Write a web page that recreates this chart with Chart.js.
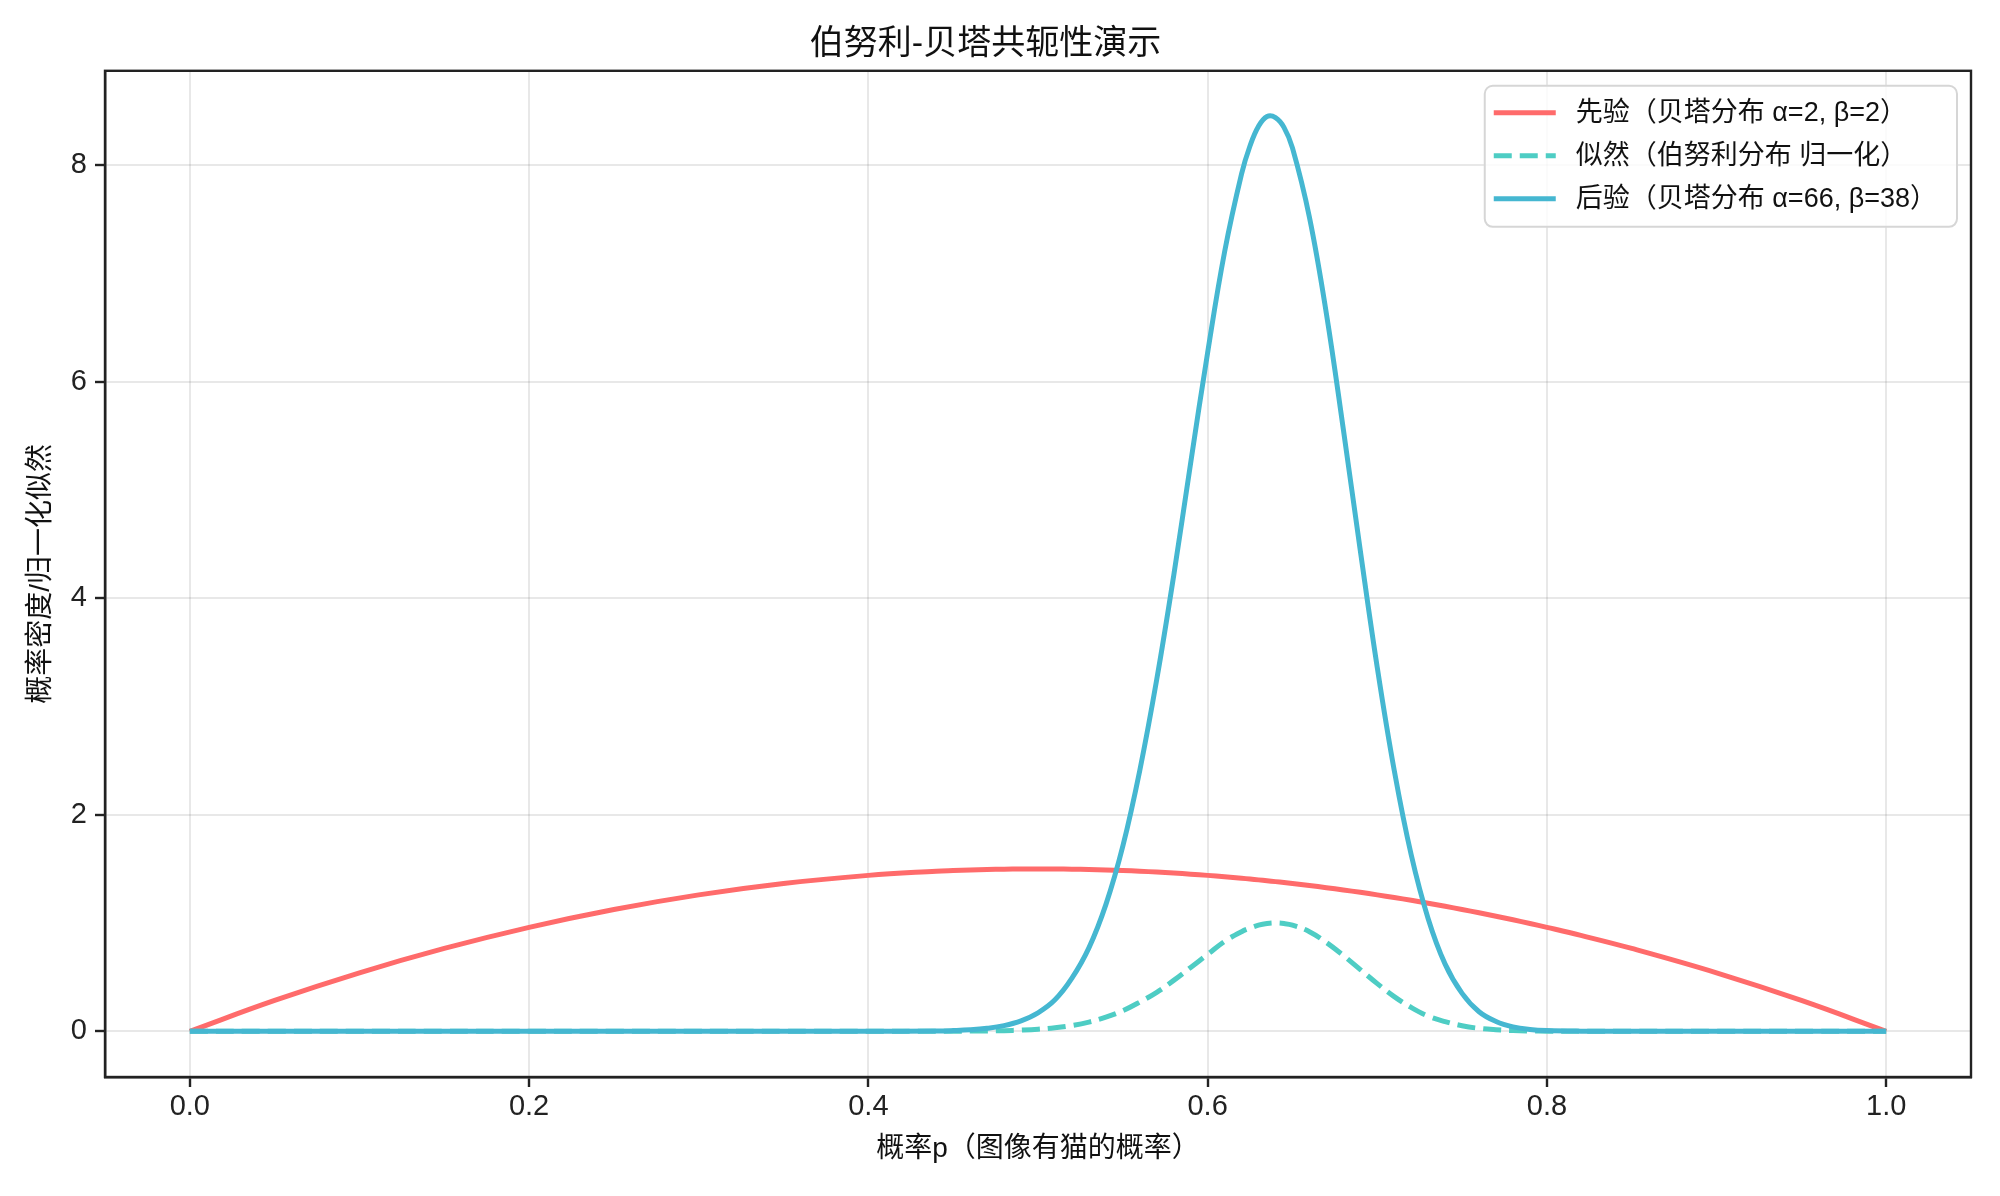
<!DOCTYPE html>
<html>
<head>
<meta charset="utf-8">
<title>伯努利-贝塔共轭性演示</title>
<script src="https://cdn.jsdelivr.net/npm/chart.js@4.4.0/dist/chart.umd.min.js"></script>
<style>
  html, body { margin: 0; padding: 0; background: #fff; }
  #wrap { width: 2000px; height: 1196px; }
</style>
</head>
<body>
<div id="wrap"><canvas id="conjugateChart" width="2000" height="1196"></canvas></div>
<script>
//------------------------------------//
//------------- Data -----------------//
//------------------------------------//

// p grid (x values), denser around the peak
const pGrid = [0, 0.05, 0.1, 0.15, 0.2, 0.25, 0.3, 0.35, 0.4, 0.44,
  0.45, 0.46, 0.47, 0.48, 0.49, 0.50, 0.51, 0.52, 0.53, 0.54, 0.55, 0.56,
  0.57, 0.58, 0.59, 0.60, 0.61, 0.62, 0.625, 0.63, 0.635, 0.64, 0.645,
  0.65, 0.66, 0.67, 0.68, 0.69, 0.70, 0.71, 0.72, 0.73, 0.74, 0.75, 0.76,
  0.77, 0.78, 0.79, 0.80, 0.82, 0.85, 0.9, 0.95, 1.0];

// prior, beta(2,2)
const priorValues = [0, 0.285, 0.54, 0.765, 0.96, 1.125, 1.26, 1.365, 1.44, 1.4784,
  1.485, 1.4904, 1.4946, 1.4976, 1.4994, 1.5, 1.4994, 1.4976, 1.4946, 1.4904, 1.485, 1.4784,
  1.4706, 1.4616, 1.4514, 1.44, 1.4274, 1.4136, 1.4063, 1.3986, 1.3907, 1.3824, 1.3739,
  1.365, 1.3464, 1.3266, 1.3056, 1.2834, 1.26, 1.2354, 1.2096, 1.1826, 1.1544, 1.125, 1.0944,
  1.0626, 1.0296, 0.9954, 0.96, 0.8856, 0.765, 0.54, 0.285, 0];

// likelihood (normalised, dashed)
const likelihoodValues = [0, 0, 0, 0, 0, 0, 0, 0, 0, 0.0003,
  0.0007, 0.0014, 0.003, 0.0057, 0.011, 0.019, 0.032, 0.053, 0.085, 0.13, 0.19, 0.27,
  0.36, 0.47, 0.59, 0.71, 0.83, 0.92, 0.953, 0.98, 0.995, 1.00, 0.995,
  0.98, 0.92, 0.82, 0.70, 0.57, 0.44, 0.32, 0.22, 0.14, 0.089, 0.051, 0.027,
  0.014, 0.0063, 0.0025, 0.001, 0.0001, 0, 0, 0, 0];

// posterior, beta(66,38)
const posteriorValues = [0, 0, 0, 0, 0, 0, 0, 0, 0, 0.002,
  0.006, 0.013, 0.027, 0.052, 0.096, 0.17, 0.29, 0.49, 0.77, 1.17, 1.71, 2.41,
  3.25, 4.21, 5.25, 6.27, 7.20, 7.92, 8.18, 8.36, 8.45, 8.44, 8.35,
  8.16, 7.52, 6.63, 5.56, 4.44, 3.36, 2.41, 1.63, 1.04, 0.62, 0.35, 0.18,
  0.09, 0.04, 0.016, 0.006, 0.001, 0, 0, 0, 0];

const xTicks = [0, 0.2, 0.4, 0.6, 0.8, 1.0];
const yTicks = [0, 2, 4, 6, 8];

const seriesLabels = [
  '先验（贝塔分布 α=2, β=2）',
  '似然（伯努利分布 归一化）',
  '后验（贝塔分布 α=66, β=38）'
];
const seriesColors = ['#FF6B6B', '#4ECDC4', '#45B7D1'];

const FONT = "'Liberation Sans', 'Noto Sans CJK SC', sans-serif";
const AXIS_COLOR = '#222';

const toPoints = ys => pGrid.map((p, i) => ({ x: p, y: ys[i] }));

//------------------------------------//
//----------- Plugins ----------------//
//------------------------------------//

// full box around the plot, like matplotlib spines
const framePlugin = {
  id: 'frame',
  afterDraw(chart) {
    const { ctx, chartArea: a } = chart;
    ctx.save();
    ctx.strokeStyle = AXIS_COLOR;
    ctx.lineWidth = 2.4;
    ctx.strokeRect(a.left, a.top, a.right - a.left, a.bottom - a.top);
    ctx.restore();
  }
};

// legend drawn inside the plot, top right
const boxLegendPlugin = {
  id: 'boxLegend',
  afterDraw(chart) {
    const { ctx, chartArea: a } = chart;
    const datasets = chart.data.datasets;
    ctx.save();
    ctx.font = '27px ' + FONT;
    let maxW = 0;
    datasets.forEach(d => { maxW = Math.max(maxW, ctx.measureText(d.label).width); });

    const padL = 9, lineLen = 62, gap = 20, padR = 20, rowH = 43;
    const w = padL + lineLen + gap + maxW + padR;
    const h = rowH * datasets.length + 12;
    const x = a.right - 14 - w;
    const y = a.top + 15;

    ctx.beginPath();
    ctx.roundRect(x, y, w, h, 8);
    ctx.fillStyle = 'rgba(255,255,255,0.8)';
    ctx.fill();
    ctx.strokeStyle = '#d6d6d6';
    ctx.lineWidth = 2;
    ctx.stroke();

    datasets.forEach((d, i) => {
      const cy = y + 27 + i * rowH;
      ctx.beginPath();
      ctx.setLineDash(d.borderDash || []);
      ctx.strokeStyle = d.borderColor;
      ctx.lineWidth = d.borderWidth;
      ctx.moveTo(x + padL, cy);
      ctx.lineTo(x + padL + lineLen, cy);
      ctx.stroke();
      ctx.setLineDash([]);
      ctx.fillStyle = '#111';
      ctx.textBaseline = 'middle';
      ctx.textAlign = 'left';
      ctx.fillText(d.label, x + padL + lineLen + gap, cy + 1);
    });
    ctx.restore();
  }
};

//------------------------------------//
//----------- Line Chart -------------//
//------------------------------------//

const chartCanvas = document.getElementById('conjugateChart');

let lineData = {
  datasets: [
    {
      label: seriesLabels[0],
      data: toPoints(priorValues),
      borderColor: seriesColors[0],
      borderWidth: 5,
      order: 2
    },
    {
      label: seriesLabels[1],
      data: toPoints(likelihoodValues),
      borderColor: seriesColors[1],
      borderWidth: 5,
      borderDash: [18, 8],
      order: 1
    },
    {
      label: seriesLabels[2],
      data: toPoints(posteriorValues),
      borderColor: seriesColors[2],
      borderWidth: 5,
      order: 0
    }
  ]
};

lineData.datasets.forEach(d => {
  d.pointRadius = 0;
  d.fill = false;
  d.tension = 0.4;
});

let lineOptions = {
  responsive: false,
  animation: false,
  devicePixelRatio: 1,
  layout: { padding: { left: 0, right: 29, top: 0, bottom: 0 } },
  scales: {
    x: {
      type: 'linear',
      min: -0.05,
      max: 1.05,
      afterBuildTicks: s => { s.ticks = xTicks.map(v => ({ value: v })); },
      afterFit: s => { s.height = 119; },
      ticks: {
        color: AXIS_COLOR,
        font: { family: FONT, size: 29 },
        padding: 3,
        maxRotation: 0,
        callback: v => Number(v).toFixed(1)
      },
      grid: {
        color: 'rgba(0,0,0,0.09)',
        lineWidth: 2,
        tickColor: AXIS_COLOR,
        tickLength: 10,
        tickWidth: 2.4
      },
      border: { color: AXIS_COLOR, width: 2.4 },
      title: {
        display: true,
        text: '概率p（图像有猫的概率）',
        color: '#111',
        font: { family: FONT, size: 28 },
        padding: { top: 0, bottom: 30 }
      }
    },
    y: {
      type: 'linear',
      min: -0.4225,
      max: 8.8725,
      afterBuildTicks: s => { s.ticks = yTicks.map(v => ({ value: v })); },
      afterFit: s => { s.width = 105; },
      ticks: {
        color: AXIS_COLOR,
        font: { family: FONT, size: 29 },
        padding: 8,
        callback: v => String(v)
      },
      grid: {
        color: 'rgba(0,0,0,0.09)',
        lineWidth: 2,
        tickColor: AXIS_COLOR,
        tickLength: 10,
        tickWidth: 2.4
      },
      border: { color: AXIS_COLOR, width: 2.4 },
      title: {
        display: true,
        text: '概率密度/归一化似然',
        color: '#111',
        font: { family: FONT, size: 28 },
        padding: { top: 24, bottom: 0 }
      }
    }
  },
  plugins: {
    legend: { display: false },
    tooltip: { enabled: false },
    title: {
      display: true,
      text: '伯努利-贝塔共轭性演示',
      color: '#111',
      font: { family: FONT, size: 34, weight: 'normal' },
      padding: { top: 24, bottom: 6 }
    }
  }
};

let conjugateChart = new Chart(chartCanvas, {
  type: 'line',
  data: lineData,
  options: lineOptions,
  plugins: [framePlugin, boxLegendPlugin]
});
</script>
</body>
</html>
